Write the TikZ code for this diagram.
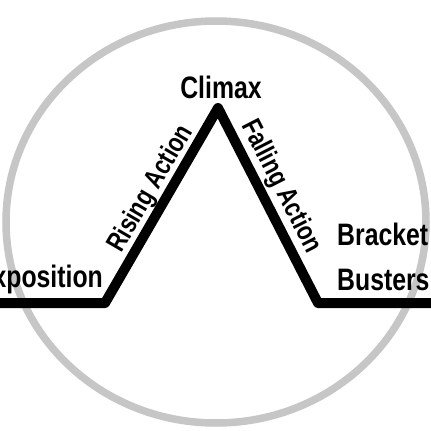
\documentclass[tikz,border=0pt]{standalone}
\usepackage{fontspec}
\setmainfont{Liberation Sans}
\usetikzlibrary{calc}
\definecolor{ringgray}{RGB}{198,198,198}
\newcommand{\cnd}[1]{\scalebox{0.8}[1]{#1}}
\begin{document}
\begin{tikzpicture}[x=1pt,y=-1pt,
  lbl/.style={font=\fontsize{31}{36}\selectfont\bfseries, inner sep=0pt},
  slbl/.style={font=\fontsize{27.5}{32}\selectfont\bfseries, inner sep=0pt},
  plot/.style={line width=10pt, line join=round, line cap=butt}]
\useasboundingbox (0,0) rectangle (431,431);
\clip (0,0) rectangle (431,431);
\fill[white] (0,0) rectangle (431,431);
\draw[line width=7.5pt, ringgray] (216,222) ellipse [x radius=210, y radius=201];
\coordinate (l) at (-5,303);
\coordinate (a) at (105,303);
\coordinate (p) at (218,108);
\coordinate (b) at (318,303);
\coordinate (r) at (436,303);
\draw[plot] (l) -- (a) -- (p) -- (b) -- (r);
\node[lbl, anchor=base] (climax) at (221,98) {\cnd{Climax}};
\node[lbl, anchor=base east] (expo) at (103,287) {\cnd{Exposition}};
\node[lbl, anchor=base west] (bb) at (337,245) {\cnd{Bracket}};
\node[lbl, anchor=base west] (bb2) at (337,290) {\cnd{Busters}};
\node[slbl, rotate=59.7, anchor=base] (rise) at ($(a)!0.54!(p)+(-0.863*10,-0.505*10)$) {\cnd{Rising Action}};
\node[slbl, rotate=-62.9, anchor=base] (fall) at ($(p)!0.45!(b)+(0.890*13,-0.456*13)$) {\cnd{Falling Action}};
\end{tikzpicture}
\end{document}
